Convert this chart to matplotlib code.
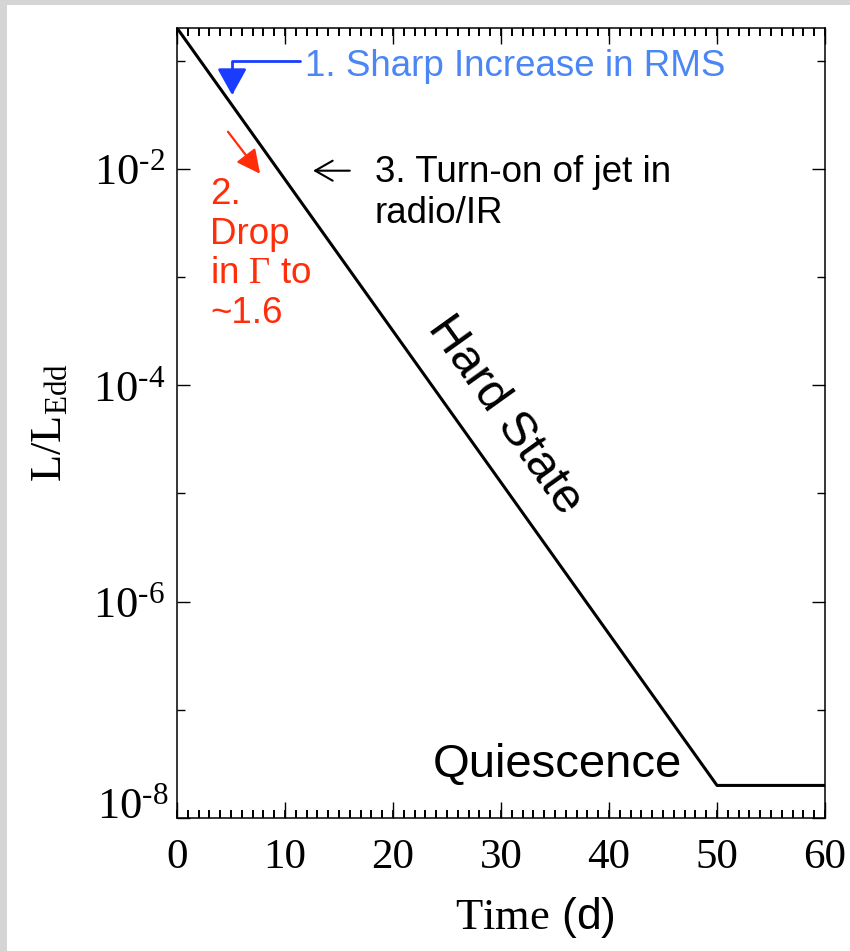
import numpy as np
import matplotlib
matplotlib.use("Agg")
from matplotlib import pyplot as plt
from matplotlib.patches import Rectangle
from matplotlib.ticker import FixedLocator, FuncFormatter, NullFormatter

plt.rcParams['font.family'] = ['Liberation Sans', 'DejaVu Sans']
plt.rcParams['mathtext.fontset'] = 'custom'
plt.rcParams['mathtext.rm'] = 'Liberation Serif'
plt.rcParams['mathtext.it'] = 'Liberation Serif:italic'
plt.rcParams['mathtext.bf'] = 'Liberation Serif:bold'

# light curve of the outburst decay
time_d = [0, 50, 60]
lum = [0.2, 2e-8, 2e-8]

x_ticks = [0, 10, 20, 30, 40, 50, 60]
x_minor = list(range(0, 61))
y_major = [1e-8, 1e-6, 1e-4, 1e-2]
y_minor = [1e-7, 1e-5, 1e-3, 1e-1]

blue_txt = '#4a86f5'
blue_arr = '#1a3cff'
red = '#ff2d0a'


def ylab(v, p):
    e = abs(round(np.log10(v)))
    if e == 8:
        return ''  # drawn separately, a little above the axis
    return '$\\mathrm{10^{\u2010%d}}$' % e


fig = plt.figure(figsize=(8.5, 9.51), dpi=100)
fig.patch.set_facecolor('#d5d5d5')
fig.patches.append(Rectangle((7 / 850, 0), 1, 946 / 951, transform=fig.transFigure,
                             facecolor='white', edgecolor='none', zorder=-10))

ax = fig.add_axes([177 / 850, 133 / 951, 648 / 850, 790 / 951])
ax.set_yscale('log')
ax.plot(time_d, lum, color='black', lw=2.2)
ax.set_xlim(0, 60)
ax.set_ylim(1e-8, 0.2)

for s in ax.spines.values():
    s.set_linewidth(1.1)

ax.xaxis.set_major_locator(FixedLocator(x_ticks))
ax.xaxis.set_minor_locator(FixedLocator(x_minor))
ax.yaxis.set_major_locator(FixedLocator(y_major))
ax.yaxis.set_minor_locator(FixedLocator(y_minor))
ax.yaxis.set_minor_formatter(NullFormatter())
ax.yaxis.set_major_formatter(FuncFormatter(ylab))

ax.tick_params(which='both', direction='in', top=True, right=True, width=1)
ax.tick_params(axis='x', which='major', length=11.5, pad=15, labelsize=31,
               labelfontfamily='Liberation Serif')
ax.tick_params(axis='x', which='minor', length=6, width=1.3)
ax.tick_params(axis='y', which='major', length=9.4, pad=8.5, labelsize=32)
ax.tick_params(axis='y', which='minor', length=5.8)

# minor day ticks along bottom and top edges (inward)
xtr = ax.get_xaxis_transform()
ax.plot(x_minor, [0] * len(x_minor), transform=xtr, ls='none', marker=2, ms=6,
        mew=1.3, color='black', clip_on=False)
ax.plot(x_minor, [1] * len(x_minor), transform=xtr, ls='none', marker=3, ms=6,
        mew=1.3, color='black', clip_on=False)

ax.text(-0.0131, 0.0203, '$\\mathrm{10^{\u20108}}$', transform=ax.transAxes, fontsize=32,
        ha='right', va='center_baseline')

ax.set_ylabel(r'$\mathrm{L/L_{Edd}}$', fontsize=32)
ax.yaxis.set_label_coords(-0.165, 0.5)
ax.set_xlabel(r'$\mathrm{Time}$ (d)', fontsize=32)
ax.xaxis.set_label_coords(0.552, -0.098)

# annotations
ax.annotate('', xy=(5.1, 0.048), xytext=(11.4, 0.1),
            arrowprops=dict(arrowstyle='-|>,head_length=0.9,head_width=0.5', color=blue_arr, lw=2,
                            connectionstyle='angle,angleA=0,angleB=90,rad=0',
                            shrinkA=0, shrinkB=0, mutation_scale=18))
ax.text(11.85, 0.0877, '1. Sharp Increase in RMS', color=blue_txt, fontsize=26.5, va='center', ha='left')

ax.annotate('', xy=(7.69, 0.009), xytext=(4.72, 0.022),
            arrowprops=dict(arrowstyle='-|>,head_length=0.8,head_width=0.4', color=red, lw=1.6,
                            shrinkA=0, shrinkB=0, mutation_scale=18))
ax.text(3.06, 0.0084, '2.\nDrop\nin $\\mathrm{\\Gamma}$ to\n~1.6', color=red, fontsize=26.5,
        va='top', ha='left', linespacing=1.17)

ax.annotate('', xy=(12.6, 0.0096), xytext=(16.0, 0.0096),
            arrowprops=dict(arrowstyle='->,head_length=0.7,head_width=0.4', color='black', lw=1.5,
                            shrinkA=0, shrinkB=0, mutation_scale=18))
ax.text(18.33, 0.0135, '3. Turn-on of jet in\nradio/IR', color='black', fontsize=26.5,
        va='top', ha='left', linespacing=1.22)

ax.text(30.4, 5.3e-5, 'Hard State', fontsize=35, rotation=-54.4, rotation_mode='anchor',
        ha='center', va='center')
ax.text(35.2, 3.1e-8, 'Quiescence', fontsize=34, ha='center', va='center')

plt.savefig('out.png', dpi=100)
